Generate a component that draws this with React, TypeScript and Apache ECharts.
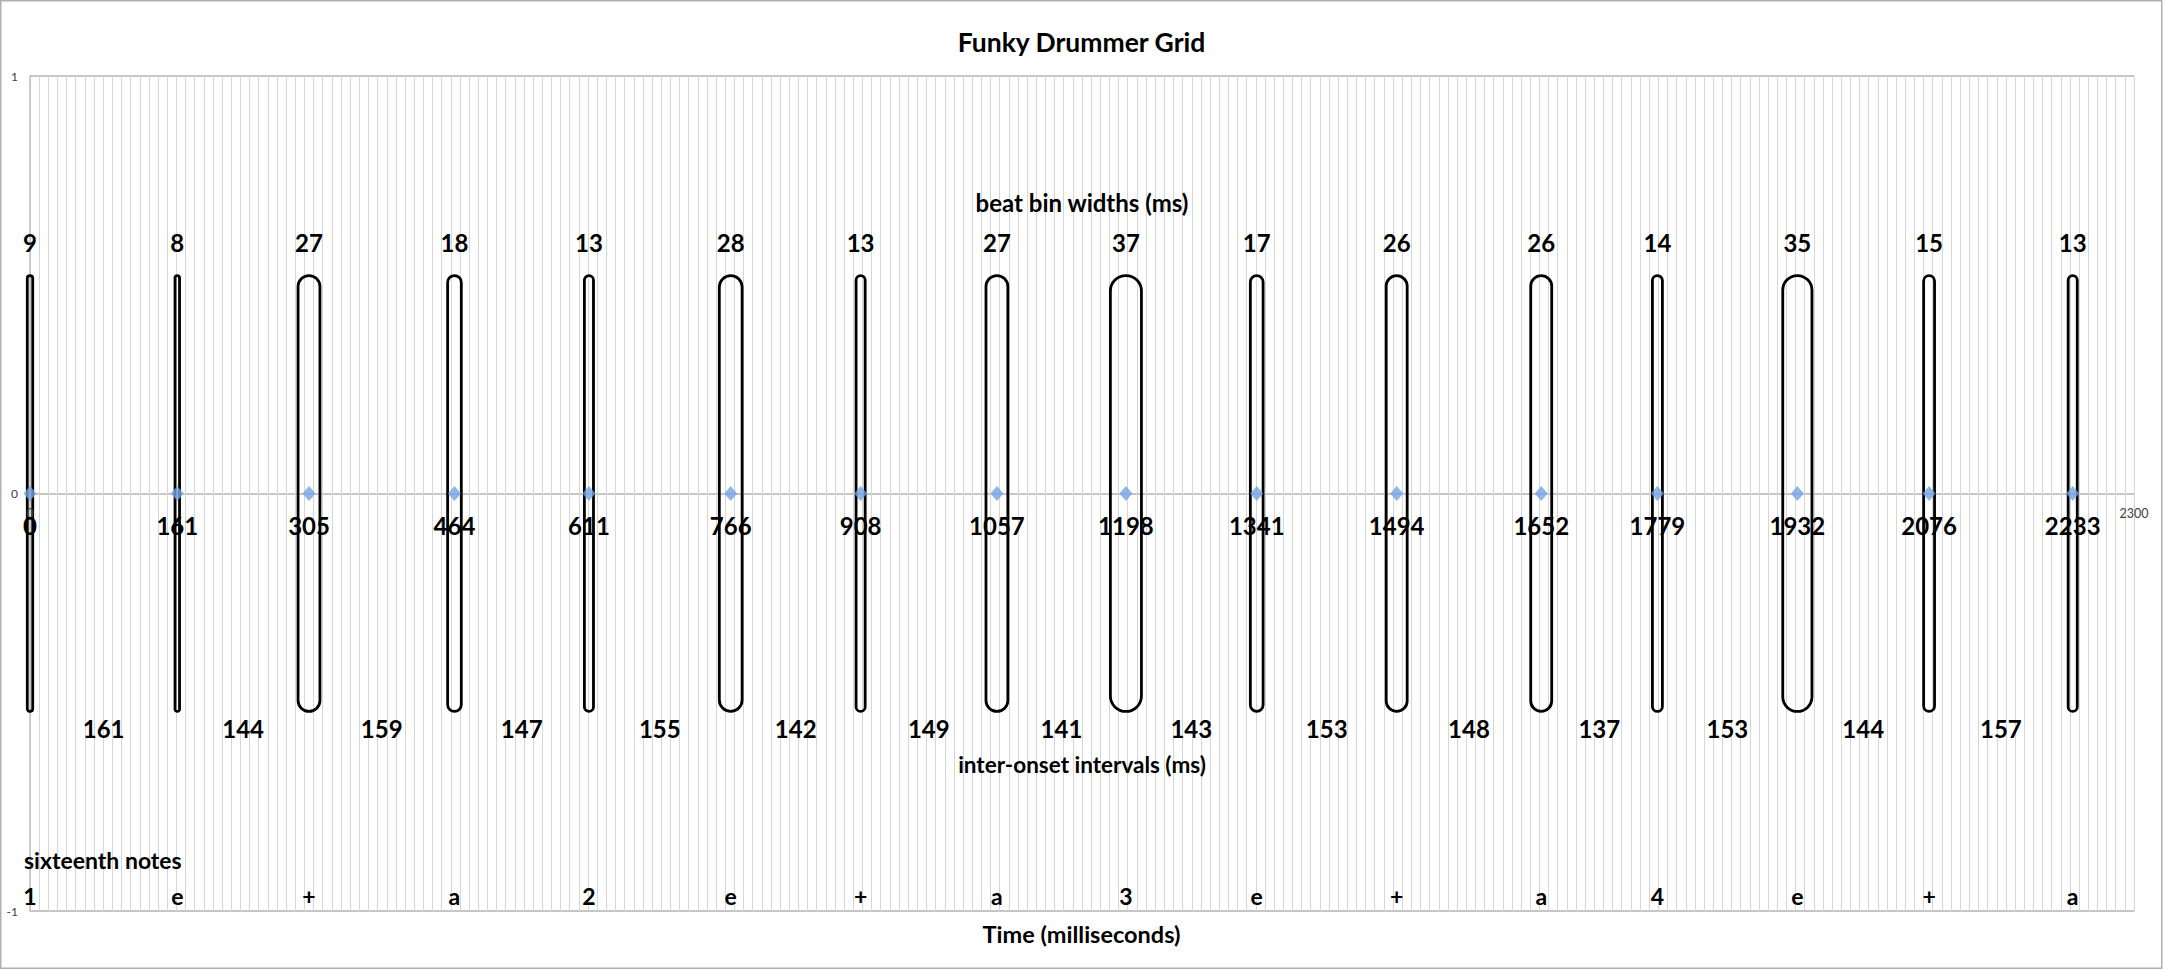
import React, { useEffect, useRef } from "react";
import * as echarts from "echarts";

// ---- data ----
const ONSETS = [0, 161, 305, 464, 611, 766, 908, 1057, 1198, 1341, 1494, 1652, 1779, 1932, 2076, 2233];
const BIN_WIDTHS = [9, 8, 27, 18, 13, 28, 13, 27, 37, 17, 26, 26, 14, 35, 15, 13];
const INTERVALS = [161, 144, 159, 147, 155, 142, 149, 141, 143, 153, 148, 137, 153, 144, 157];
const NOTES = ["1", "e", "+", "a", "2", "e", "+", "a", "3", "e", "+", "a", "4", "e", "+", "a"];
const X_TICK_LABELS = [0, 2300];
const X_RANGE = [0, 2300];
const Y_RANGE = [-1, 1];

// ---- layout constants (data units) ----
const CAPSULE_HALF = 0.522;
const ROW_BEAT_TITLE = 0.696;
const ROW_BIN = 0.602;
const ROW_XTICK = -0.047;
const ROW_ONSET = -0.076;
const ROW_INTERVAL = -0.562;
const ROW_INTERVAL_TITLE = -0.65;
const ROW_SIXTEENTH_TITLE = -0.878;
const ROW_NOTES = -0.964;
const TITLE_X = 1150;

const FONT = "Lato, 'Noto Sans', sans-serif";

function textSeries(
  points: number[][],
  texts: string[],
  fontSize: number,
  opts: { align?: string; dx?: number; weight?: string; color?: string } = {}
) {
  const { align = "center", dx = 0, weight = "bold", color = "#000000" } = opts;
  return {
    type: "custom",
    clip: false,
    silent: true,
    z: 5,
    data: points,
    renderItem: (params: any, api: any) => {
      const p = api.coord([api.value(0), api.value(1)]);
      return {
        type: "text",
        x: p[0] + dx,
        y: p[1],
        style: {
          text: texts[params.dataIndex],
          fill: color,
          fontSize,
          fontWeight: weight,
          fontFamily: FONT,
          align,
          verticalAlign: "middle",
        },
      };
    },
  };
}

export default function App() {
  const ref = useRef<HTMLDivElement>(null);

  useEffect(() => {
    if (!ref.current) return;
    const chart = echarts.init(ref.current, undefined, { renderer: "svg" });

    const midpoints = INTERVALS.map((_, i) => (ONSETS[i] + ONSETS[i + 1]) / 2);

    const option: any = {
      animation: false,
      backgroundColor: "#ffffff",
      title: [
        {
          text: "Funky Drummer Grid",
          left: "center",
          top: 28,
          padding: 0,
          textStyle: { fontFamily: FONT, fontSize: 26.5, fontWeight: "bold", color: "#000" },
        },
        {
          text: "Time (milliseconds)",
          left: "center",
          top: 922,
          padding: 0,
          textStyle: { fontFamily: FONT, fontSize: 23.5, fontWeight: "bold", color: "#000" },
        },
      ],
      grid: { left: 30, right: 29, top: 76, bottom: 59, containLabel: false },
      xAxis: {
        type: "value",
        min: X_RANGE[0],
        max: X_RANGE[1],
        interval: 10,
        axisLine: { show: false },
        axisTick: { show: false },
        axisLabel: { show: false },
        splitLine: { show: true, lineStyle: { color: "#d6d6d6", width: 1 } },
      },
      yAxis: {
        type: "value",
        min: Y_RANGE[0],
        max: Y_RANGE[1],
        interval: 1,
        axisLine: { show: true, lineStyle: { color: "#bfbfbf", width: 1.5 } },
        axisTick: { show: false },
        axisLabel: { fontSize: 12, fontFamily: FONT, color: "#404040", margin: 12 },
        splitLine: { show: true, lineStyle: { color: "#b3b3b3", width: 1.5 } },
      },
      graphic: [
        {
          type: "rect",
          shape: { x: 0.75, y: 0.75, width: 2161, height: 967.5 },
          style: { fill: "none", stroke: "#b0b0b0", lineWidth: 1.5 },
          z: 10,
          silent: true,
        },
      ],
      series: [
        {
          type: "custom",
          clip: false,
          silent: true,
          z: 3,
          data: ONSETS.map((x, i) => [x, BIN_WIDTHS[i]]),
          renderItem: (params: any, api: any) => {
            const x = api.value(0);
            const w = api.value(1);
            const p1 = api.coord([x - w / 2, CAPSULE_HALF]);
            const p2 = api.coord([x + w / 2, -CAPSULE_HALF]);
            const lw = 2.8;
            const width = Math.max(2, p2[0] - p1[0] - lw);
            const cx = (p1[0] + p2[0]) / 2;
            return {
              type: "rect",
              shape: {
                x: cx - width / 2,
                y: p1[1],
                width,
                height: p2[1] - p1[1],
                r: width / 2,
              },
              style: { fill: "none", stroke: "#000000", lineWidth: lw },
            };
          },
        },
        {
          type: "scatter",
          z: 4,
          symbol: "diamond",
          symbolSize: [13, 15],
          itemStyle: { color: "#74a3e2" },
          data: ONSETS.map((x) => [x, 0]),
        },
        textSeries(
          X_TICK_LABELS.map((x) => [x, ROW_XTICK]),
          X_TICK_LABELS.map(String),
          12.5,
          { weight: "normal", color: "#404040" }
        ),
        textSeries([[TITLE_X, ROW_BEAT_TITLE]], ["beat bin widths (ms)"], 24),
        textSeries(ONSETS.map((x) => [x, ROW_BIN]), BIN_WIDTHS.map(String), 24),
        textSeries(ONSETS.map((x) => [x, ROW_ONSET]), ONSETS.map(String), 24),
        textSeries(midpoints.map((x) => [x, ROW_INTERVAL]), INTERVALS.map(String), 24),
        textSeries([[TITLE_X, ROW_INTERVAL_TITLE]], ["inter-onset intervals (ms)"], 22.5),
        textSeries([[0, ROW_SIXTEENTH_TITLE]], ["sixteenth notes"], 23, { align: "left", dx: -6 }),
        textSeries(ONSETS.map((x) => [x, ROW_NOTES]), NOTES, 23),
      ],
    };

    chart.setOption(option);
    return () => chart.dispose();
  }, []);

  return (
    <div
      ref={ref}
      style={{ position: "absolute", left: 0, top: 0, width: 2163, height: 970 }}
    />
  );
}
